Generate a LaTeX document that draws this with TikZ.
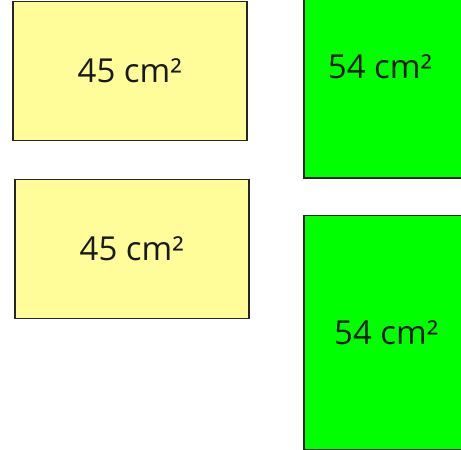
\documentclass[tikz,border=0pt]{standalone}
\usepackage{fontspec}
\setmainfont{Open Sans}
\usetikzlibrary{positioning}
\definecolor{paleyellow}{RGB}{255,253,153}
\definecolor{brightgreen}{RGB}{0,255,0}
\tikzset{area/.style={rectangle, draw=black!85, line width=1.5pt,
    inner sep=0pt, text=black!90, font=\fontsize{33}{36}\selectfont},
  yellowbox/.style={area, fill=paleyellow, minimum width=234pt,
    minimum height=139pt, anchor=north west},
  greenbox/.style={area, fill=brightgreen, minimum width=165pt,
    anchor=north west},
  arealabel/.style={text=black!90, font=\fontsize{33}{36}\selectfont,
    inner sep=0pt}
}

\begin{document}
\begin{tikzpicture}[x=1pt,y=-1pt]

   \useasboundingbox (0,0) rectangle (461,450);
   \clip (0,0) rectangle (461,450);

   %Yellow pieces
   \node (Yellow-A) [yellowbox] at (12,0.8) {45 cm²};
   \node (Yellow-B) [yellowbox] at (14,178.5) {45 cm²};

   %Green pieces, cut at the right edge
   \node (Green-A) [greenbox, minimum height=179pt] at (303,-2) {};
   \node (Green-A-label) [arealabel] at (380,67) {54 cm²};
   \node (Green-B) [greenbox, minimum height=234pt] at (303,214.5) {54 cm²};

\end{tikzpicture}
\end{document}
